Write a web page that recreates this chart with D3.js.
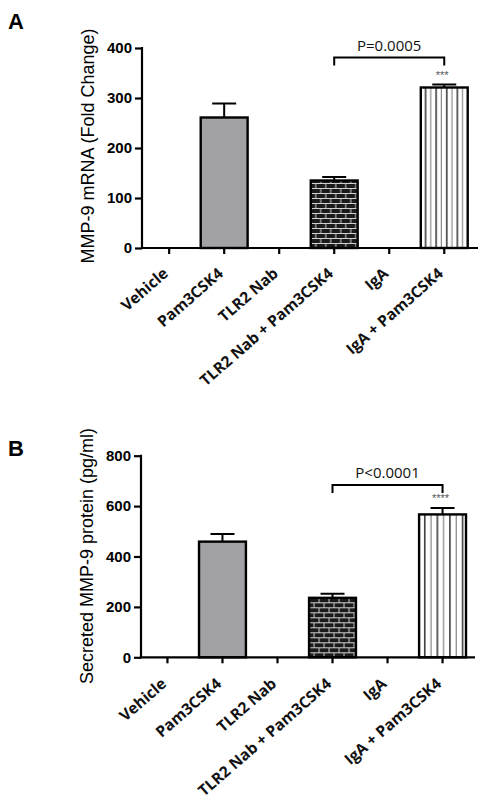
<!DOCTYPE html>
<html><head><meta charset="utf-8">
<script src="https://cdn.jsdelivr.net/npm/d3@7"></script>
<style>body{margin:0;background:#fff}svg{display:block}</style>
</head><body>
<svg id="c" width="493" height="811"></svg>
<script>
const categories = ["Vehicle","Pam3CSK4","TLR2 Nab","TLR2 Nab + Pam3CSK4","IgA","IgA + Pam3CSK4"];
const fills = ["none","grey","none","brick","none","stripe"];
const mrnaValues = [0, 261, 0, 135, 0, 321];
const mrnaErrors = [0, 28, 0, 7, 0, 6];
const proteinValues = [0, 459, 0, 236, 0, 567];
const proteinErrors = [0, 30, 0, 16, 0, 25];
const mrnaTicks = [0, 100, 200, 300, 400];
const proteinTicks = [0, 200, 400, 600, 800];
const panelA = {letter:"A", ylabel:"MMP-9 mRNA (Fold Change)", values:mrnaValues, errors:mrnaErrors, ticks:mrnaTicks, max:400,
  pText:"P=0.0005", stars:"***", bracketVal:381, compare:[3,5]};
const panelB = {letter:"B", ylabel:"Secreted MMP-9 protein (pg/ml)", values:proteinValues, errors:proteinErrors, ticks:proteinTicks, max:800,
  pText:"P<0.0001", stars:"****", bracketVal:684, compare:[3,5]};

const svg = d3.select("#c");
const defs = svg.append("defs");

function drawPanel(p, L, id) {
  const g = svg.append("g");
  const y = d3.scaleLinear().domain([0, p.max]).range([L.y0, L.y1]);
  const x = d3.scaleBand().domain(categories).range([L.c0 - 27, L.c0 + 5*54 + 27]).paddingInner(6/54).paddingOuter(0);
  const bw = x.bandwidth();

  const brick = defs.append("pattern").attr("id","brick"+id).attr("patternUnits","userSpaceOnUse")
    .attr("width",10).attr("height",10).attr("x",x(categories[3])).attr("y",L.y0);
  brick.append("rect").attr("width",10).attr("height",10).attr("fill","#1a1a1a");
  brick.append("path").attr("d","M0,0.5H10M0,5.5H10M1,0.5V5.5M6,5.5V10.5").attr("stroke","#d0d0d0").attr("stroke-width",1);
  const sp = L.stripe;
  const stripe = defs.append("pattern").attr("id","stripe"+id).attr("patternUnits","userSpaceOnUse")
    .attr("width",2*sp).attr("height",10).attr("x",x(categories[5])+1).attr("y",0);
  stripe.append("rect").attr("width",2*sp).attr("height",10).attr("fill","#fff");
  stripe.append("line").attr("x1",sp*0.9).attr("x2",sp*0.9).attr("y1",0).attr("y2",10).attr("stroke","#111").attr("stroke-width",1.3);
  stripe.append("line").attr("x1",sp*1.9).attr("x2",sp*1.9).attr("y1",0).attr("y2",10).attr("stroke","#8a8a8a").attr("stroke-width",1.3);

  const fillOf = f => f==="grey" ? "#a2a2a6" : f==="brick" ? `url(#brick${id})` : f==="stripe" ? `url(#stripe${id})` : "none";
  const data = categories.map((c,i)=>({c, v:p.values[i], e:p.errors[i], f:fills[i]})).filter(d=>d.v>0);

  g.selectAll(".err").data(data).join("path")
    .attr("d", d => {const cx = x(d.c)+bw/2; return `M${cx},${y(d.v)}V${y(d.v+d.e)}M${cx-12},${y(d.v+d.e)}H${cx+12}`;})
    .attr("stroke","#000").attr("stroke-width",2).attr("fill","none");
  g.selectAll(".bar").data(data).join("rect")
    .attr("x", d=>x(d.c)+1).attr("width", bw-2)
    .attr("y", d=>y(d.v)).attr("height", d=>L.y0 - y(d.v))
    .attr("fill", d=>fillOf(d.f)).attr("stroke","#000").attr("stroke-width",2.4);

  const yAxis = d3.axisLeft(y).tickValues(p.ticks).tickSize(7).tickPadding(3);
  const ya = g.append("g").attr("transform",`translate(${L.ax},0)`).call(yAxis);
  ya.select(".domain").attr("d",`M0,${L.y0+1}V${L.y1-1}`).attr("stroke-width",2.2);
  ya.selectAll(".tick line").attr("stroke-width",2.2);
  ya.selectAll(".tick text").attr("font-family","Liberation Sans, Arial, sans-serif").attr("font-weight","bold").attr("font-size",15).attr("fill","#000");

  const xAxis = d3.axisBottom(x).tickSize(6).tickFormat("");
  const xa = g.append("g").attr("transform",`translate(0,${L.y0})`).call(xAxis);
  xa.select(".domain").attr("d",`M${L.ax-1},0H${L.xend}`).attr("stroke-width",2.2);
  xa.selectAll(".tick line").attr("stroke-width",2.2);
  const lg = g.selectAll(".xlg").data(categories).join("g").attr("class","xlg")
    .attr("transform", d=>`translate(${x(d)+bw/2},${L.y0+L.lblOff})`);
  lg.append("text").attr("transform","rotate(-41)")
    .attr("text-anchor","end").attr("font-family","Open Sans, sans-serif").attr("font-weight","bold").attr("font-size",15.5)
    .attr("fill","#111").text(d=>d);

  g.append("text").attr("transform",`translate(${L.lx},${L.ly}) rotate(-90)`)
    .attr("text-anchor","middle").attr("dy","0.35em").attr("font-family","Liberation Sans, Arial, sans-serif")
    .attr("font-size",18).attr("fill","#000").text(p.ylabel);

  svg.append("text").attr("x",8).attr("y",L.letterY).attr("font-family","Liberation Sans, Arial, sans-serif")
    .attr("font-weight","bold").attr("font-size",22).attr("fill","#000").text(p.letter);

  const xa1 = x(categories[p.compare[0]])+bw/2, xa2 = x(categories[p.compare[1]])+bw/2;
  const by = y(p.bracketVal);
  g.append("path").attr("d",`M${xa1},${by+8}V${by}H${xa2}V${by+8}`).attr("stroke","#000").attr("stroke-width",2).attr("fill","none");
  g.append("text").attr("x",(xa1+xa2)/2).attr("y",by-7).attr("text-anchor","middle")
    .attr("font-family","Open Sans, sans-serif").attr("font-size",15).attr("fill","#111").text(p.pText);
  const top5 = p.values[p.compare[1]] + p.errors[p.compare[1]];
  g.append("text").attr("x",xa2 - 2).attr("y",y(top5)-6).attr("text-anchor","middle")
    .attr("font-family","Liberation Sans, Arial, sans-serif").attr("font-size",11).attr("fill","#555").text(p.stars);
}

drawPanel(panelA, {ax:142, y0:248, y1:48, c0:171.7, xend:478, lx:88, ly:146, letterY:29, lblOff:27, stripe:5.3}, "A");
drawPanel(panelB, {ax:141, y0:657.3, y1:455.7, c0:170, xend:475, lx:87, ly:556, letterY:456, lblOff:28, stripe:6.3}, "B");
</script>
</body></html>
